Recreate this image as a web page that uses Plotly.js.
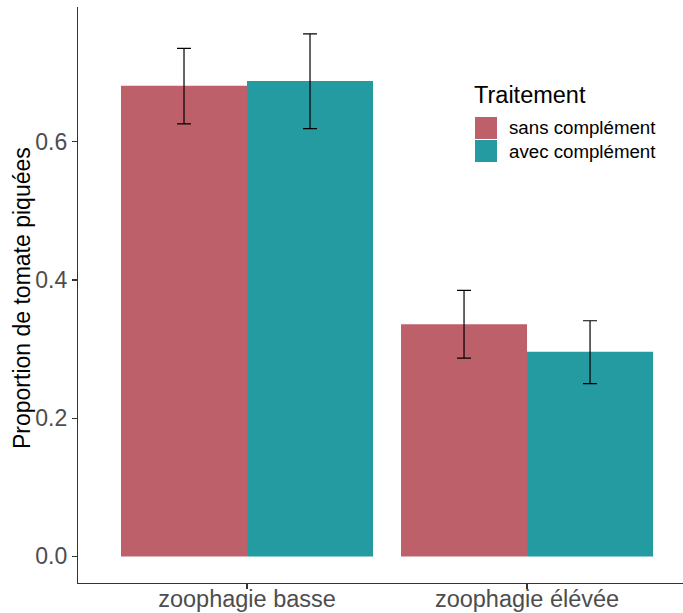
<!DOCTYPE html>
<html>
<head>
<meta charset="utf-8">
<script src="https://cdn.plot.ly/plotly-3.0.1.min.js"></script>
<style>html,body{margin:0;padding:0;background:#fff;}#chart{width:683px;height:613px;}</style>
</head>
<body>
<div id="chart"></div>
<script>
const categories = ["zoophagie basse", "zoophagie élévée"];
const treatments = ["sans complément", "avec complément"];
const meanSans = [0.681, 0.336];
const lowSans = [0.626, 0.287];
const highSans = [0.735, 0.385];
const meanAvec = [0.688, 0.296];
const lowAvec = [0.619, 0.250];
const highAvec = [0.756, 0.341];
const yTicks = [0.0, 0.2, 0.4, 0.6];
const yTickLabels = ["0.0", "0.2", "0.4", "0.6"];
const yTitle = "Proportion de tomate piquées";
const legendTitle = "Traitement";
const colors = ["#BD606A", "#249BA0"];

function mk(name, mean, low, high, color) {
  return {
    type: "bar", name: name, x: categories, y: mean,
    marker: {color: color, line: {width: 0}},
    error_y: {type: "data", symmetric: false,
      array: high.map((h, i) => h - mean[i]),
      arrayminus: mean.map((m, i) => m - low[i]),
      color: "#000000", thickness: 1.2, width: 7},
    showlegend: false, hoverinfo: "skip"
  };
}
const data = [
  mk(treatments[0], meanSans, lowSans, highSans, colors[0]),
  mk(treatments[1], meanAvec, lowAvec, highAvec, colors[1])
];

const font = "Liberation Sans, Arial, sans-serif";
const PW = 605, PH = 576, L = 78, T = 7;
const px = v => (v - L) / PW;
const py = v => (T + PH - v) / PH;

const shapes = [], annotations = [];
annotations.push({xref: "paper", yref: "paper", x: px(22), y: py(298), xanchor: "center", yanchor: "middle",
  text: yTitle, textangle: -90, showarrow: false, font: {family: font, size: 23, color: "#000000"}});
annotations.push({xref: "paper", yref: "paper", x: px(472), y: py(95), xanchor: "left", yanchor: "middle",
  text: legendTitle, showarrow: false, font: {family: font, size: 23.5, color: "#000000"}});
treatments.forEach((t, i) => {
  const top = 117 + i * 23;
  shapes.push({type: "rect", xref: "paper", yref: "paper", x0: px(475), x1: px(497), y0: py(top + 22), y1: py(top),
    fillcolor: colors[i], line: {width: 0}});
  annotations.push({xref: "paper", yref: "paper", x: px(507), y: py(top + 11), xanchor: "left", yanchor: "middle",
    text: t, showarrow: false, font: {family: font, size: 18.7, color: "#000000"}});
});

const layout = {
  width: 683, height: 613,
  margin: {l: L, r: 0, t: T, b: 30, pad: 0},
  paper_bgcolor: "#ffffff", plot_bgcolor: "#ffffff",
  barmode: "group", bargap: 0.1, bargroupgap: 0,
  showlegend: false,
  font: {family: font},
  xaxis: {type: "category", range: [-0.6036, 1.557], showline: true, linecolor: "#333333", linewidth: 1.1,
    ticks: "outside", ticklen: 5, tickwidth: 1.1, tickcolor: "#333333", showgrid: false, zeroline: false,
    ticklabelstandoff: -10,
    tickfont: {family: font, size: 23.5, color: "#4D4D4D"}},
  yaxis: {range: [-0.0385, 0.795], showline: true, linecolor: "#333333", linewidth: 1.1,
    ticks: "outside", ticklen: 5, tickwidth: 1.1, tickcolor: "#333333", showgrid: false, zeroline: false,
    tickvals: yTicks, ticktext: yTickLabels, tickfont: {family: font, size: 23, color: "#4D4D4D"}},
  shapes: shapes, annotations: annotations
};
Plotly.newPlot("chart", data, layout, {displayModeBar: false, staticPlot: true});
</script>
</body>
</html>
